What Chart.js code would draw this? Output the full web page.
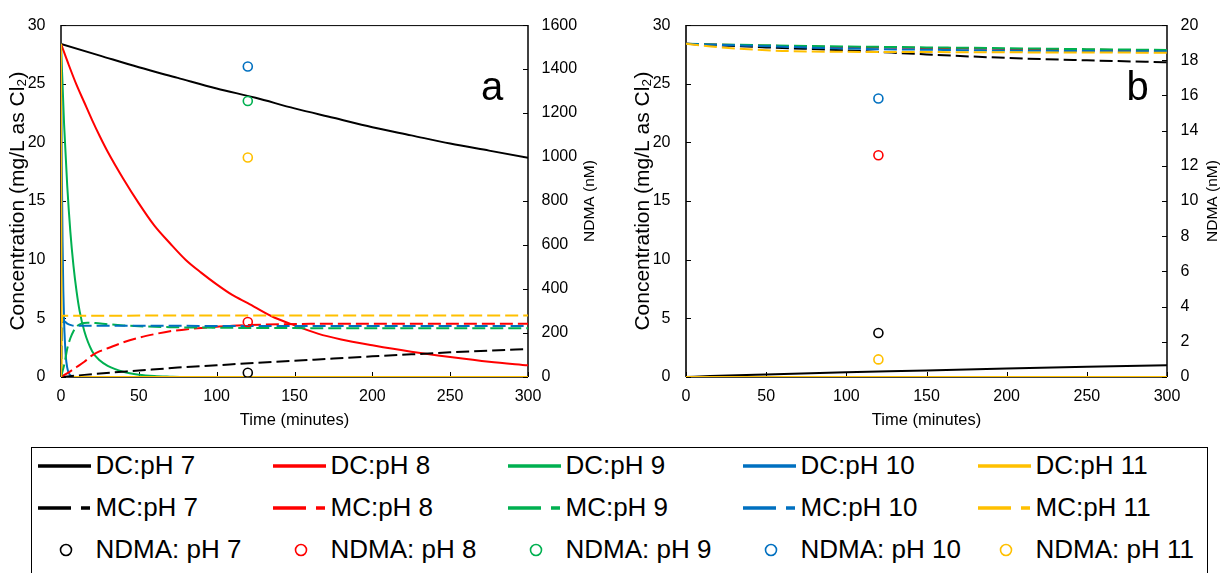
<!DOCTYPE html>
<html><head><meta charset="utf-8">
<script src="https://cdn.jsdelivr.net/npm/chart.js@4/dist/chart.umd.min.js"></script>
<style>
html,body{margin:0;padding:0;background:#fff;width:1225px;height:573px;overflow:hidden;font-family:'Liberation Sans',Arial,sans-serif;}
#ca{position:absolute;left:0;top:0;}
#cb{position:absolute;left:625px;top:0;}
#legend{position:absolute;left:31px;top:447px;width:1177px;height:140px;border:1.5px solid #000;box-sizing:border-box;}
.item{position:absolute;height:30px;display:flex;align-items:center;font-size:26px;color:#000;white-space:nowrap;}
.item svg{flex:none;}
</style></head><body>
<canvas id="ca" width="612" height="440"></canvas>
<canvas id="cb" width="600" height="440"></canvas>
<div id="legend"></div>
<script>
// ---------- categories / labels ----------
const PH = ['pH 7','pH 8','pH 9','pH 10','pH 11'];
const COLORS = ['#000000','#FF0000','#00B050','#0070C0','#FFC000'];
const xTicks = [0,50,100,150,200,250,300];
const leftTicks = [0,5,10,15,20,25,30];
const rightTicksA = [0,200,400,600,800,1000,1200,1400,1600];
const rightTicksB = [0,2,4,6,8,10,12,14,16,18,20];
const ndmaTime = 120;

// ---------- panel a : DC (solid) ----------
const aDC7_t = [0,25,50,75,100,125,150,175,200,225,250,275,300];
const aDC7_v = [28.4,27.4,26.4,25.5,24.6,23.8,22.9,22.1,21.3,20.6,19.9,19.3,18.7];
const aDC8_t = [0,5,10,15,20,25,30,40,50,60,70,80,90,100,110,120,135,150,165,180,200,225,250,275,300];
const aDC8_v = [28.4,26.6,24.9,23.4,21.9,20.5,19.2,16.9,14.8,12.9,11.4,10.0,8.9,7.9,7.0,6.3,5.2,4.4,3.7,3.2,2.7,2.15,1.7,1.3,1.0];
const aDC9_t = [0,2,4,6,8,10,12,15,20,25,30,40,50,60,70,80,300];
const aDC9_v = [28.4,21.5,16.3,12.4,9.5,7.3,5.6,3.9,2.2,1.4,0.95,0.45,0.2,0.08,0.03,0,0];
const aDC10_t = [0,0.5,1,1.5,2,3,4,6,10,300];
const aDC10_v = [28.4,18,11.5,7.3,4.7,1.9,0.8,0.15,0,0];
const aDC11_t = [0,0.5,300];
const aDC11_v = [28.4,0,0];
// ---------- panel a : MC (dashed) ----------
const aMC7_t = [0,10,25,50,75,100,125,150,175,200,225,250,275,300];
const aMC7_v = [0,0.12,0.3,0.55,0.8,1.0,1.2,1.38,1.58,1.76,1.93,2.1,2.25,2.38];
const aMC8_t = [0,5,10,15,20,25,30,40,50,60,70,80,90,100,110,120,140,160,200,250,300];
const aMC8_v = [0,0.4,0.85,1.3,1.85,2.2,2.45,2.95,3.35,3.65,3.9,4.05,4.18,4.28,4.37,4.43,4.5,4.53,4.55,4.55,4.55];
const aMC9_t = [0,1,2,3,4,6,8,10,13,17,22,30,40,50,70,100,150,200,300];
const aMC9_v = [0,0.5,1.0,1.7,2.4,3.3,3.9,4.3,4.55,4.62,4.6,4.5,4.4,4.33,4.25,4.2,4.17,4.15,4.15];
const aMC10_t = [0,0.5,1,2,4,7,10,300];
const aMC10_v = [0,3.0,4.5,4.75,4.55,4.4,4.37,4.35];
const aMC11_t = [0,0.5,1,300];
const aMC11_v = [0,4.5,5.22,5.25];
// ---------- panel a : NDMA (nM) at 120 min, pH 7..11 ----------
const aNDMA = [19,250,1255,1412,998];

// ---------- panel b : DC (solid) ----------
const bDC7_t = [0,15,50,100,150,200,250,300];
const bDC7_v = [0,0.08,0.22,0.4,0.55,0.72,0.87,1.0];
const bDC8_t = [0,300];  const bDC8_v = [0,0];
const bDC9_t = [0,300];  const bDC9_v = [0,0];
const bDC10_t = [0,300]; const bDC10_v = [0,0];
const bDC11_t = [0,300]; const bDC11_v = [0,0];
// ---------- panel b : MC (dashed) ----------
const bMC7_t = [0,50,100,150,200,250,300];
const bMC7_v = [28.4,28.1,27.85,27.5,27.2,27.0,26.83];
const bMC8_t = [0,50,100,150,200,250,300];
const bMC8_v = [28.4,28.25,28.12,28.05,27.97,27.9,27.85];
const bMC9_t = [0,50,100,150,200,250,300];
const bMC9_v = [28.4,28.28,28.18,28.1,28.03,27.95,27.88];
const bMC10_t = [0,50,100,150,200,250,300];
const bMC10_v = [28.4,28.2,28.0,27.9,27.83,27.79,27.76];
const bMC11_t = [0,20,60,100,150,200,250,300];
const bMC11_v = [28.4,28.12,27.8,27.72,27.7,27.68,27.66,27.65];
// ---------- panel b : NDMA (nM) at 120 min ----------
const bNDMA = [2.5,12.6,null,15.83,1.0];

const FONT = "'Liberation Sans', Arial, sans-serif";
Chart.defaults.font.family = FONT;
Chart.defaults.color = '#000';

function pts(t, v){ return t.map((x,k)=>({x:x, y:v[k]})); }

function buildDatasets(dc, mc, ndma){
  const ds = [];
  let i = 0;
  dc.forEach((s,k)=>{
    ds.push({type:'line', label:'DC:'+PH[k], data:pts(s[0],s[1]), borderColor:COLORS[k], borderWidth:2,
      pointRadius:0, fill:false, cubicInterpolationMode:'monotone', yAxisID:'y', order:100-(i++)});
  });
  mc.forEach((s,k)=>{
    ds.push({type:'line', label:'MC:'+PH[k], data:pts(s[0],s[1]), borderColor:COLORS[k], borderWidth:2,
      borderDash:[13,5], pointRadius:0, fill:false, cubicInterpolationMode:'monotone', yAxisID:'y', order:100-(i++)});
  });
  ndma.forEach((v,k)=>{
    ds.push({type:'scatter', label:'NDMA: '+PH[k], data: v==null?[]:[{x:ndmaTime, y:v}], borderColor:COLORS[k],
      backgroundColor:'rgba(255,255,255,0)', pointRadius:4.5, pointBorderWidth:1.6, pointHoverRadius:4.5,
      yAxisID:'y2', order:100-(i++)});
  });
  return ds;
}

function framePlugin(letter, letterX, leftW, rTitleX){
  return {
    id:'frame'+letter,
    beforeDatasetsDraw(chart){
      const {ctx, chartArea:a, scales} = chart;
      ctx.save();
      ctx.strokeStyle = '#000';
      ctx.lineWidth = 1;
      ctx.beginPath(); ctx.moveTo(a.left, a.top+0.5); ctx.lineTo(a.right, a.top+0.5); ctx.stroke();
      ctx.lineWidth = 1.5;
      ctx.beginPath(); ctx.moveTo(a.right, a.top); ctx.lineTo(a.right, a.bottom); ctx.stroke();
      ctx.beginPath(); ctx.moveTo(a.left, a.bottom); ctx.lineTo(a.right, a.bottom); ctx.stroke();
      ctx.lineWidth = leftW;
      ctx.strokeStyle = leftW > 1.5 ? '#333' : '#000';
      ctx.beginPath(); ctx.moveTo(a.left, a.top); ctx.lineTo(a.left, a.bottom); ctx.stroke();
      ctx.strokeStyle = '#000';
      ctx.lineWidth = 1;
      scales.y.ticks.forEach(t=>{ const p = Math.round(scales.y.getPixelForValue(t.value))+0.5;
        ctx.beginPath(); ctx.moveTo(a.left, p); ctx.lineTo(a.left+5, p); ctx.stroke(); });
      scales.y2.ticks.forEach(t=>{ const p = Math.round(scales.y2.getPixelForValue(t.value))+0.5;
        ctx.beginPath(); ctx.moveTo(a.right-5, p); ctx.lineTo(a.right, p); ctx.stroke(); });
      scales.x.ticks.forEach(t=>{ const p = Math.round(scales.x.getPixelForValue(t.value))+0.5;
        ctx.beginPath(); ctx.moveTo(p, a.bottom); ctx.lineTo(p, a.bottom-5); ctx.stroke(); });
      ctx.restore();
    },
    afterDraw(chart){
      const {ctx, chartArea:a} = chart;
      ctx.save();
      ctx.fillStyle = '#000';
      ctx.font = "40px " + FONT;
      ctx.textAlign = 'center';
      ctx.textBaseline = 'alphabetic';
      ctx.fillText(letter, letterX, 100);
      // right axis title, reading bottom-to-top
      ctx.translate(rTitleX, (a.top + a.bottom) / 2);
      ctx.rotate(-Math.PI / 2);
      ctx.font = "15.5px " + FONT;
      ctx.textBaseline = 'middle';
      ctx.fillText('NDMA (nM)', 0, 0);
      ctx.restore();
    }
  };
}

function makeChart(id, dc, mc, ndma, rightTicks, rightW, rTitleX, letter, letterX, leftW){
  return new Chart(document.getElementById(id), {
    type:'line',
    data:{ datasets: buildDatasets(dc, mc, ndma) },
    options:{
      responsive:false, animation:false, devicePixelRatio:1,
      layout:{ padding:{top:17, left:0, right:0, bottom:0} },
      plugins:{ legend:{display:false}, tooltip:{enabled:false} },
      events:[],
      scales:{
        x:{ type:'linear', position:'bottom', min:0, max:300,
          afterBuildTicks: s=>{ s.ticks = xTicks.map(v=>({value:v})); },
          afterFit: s=>{ s.height = 63; },
          grid:{display:false, drawTicks:false}, border:{display:false},
          ticks:{ font:{size:16}, color:'#000', padding:10, maxRotation:0, autoSkip:false, callback: v=>String(v) },
          title:{ display:true, text:'Time (minutes)', font:{size:16.5}, color:'#000', padding:{top:0, bottom:10} } },
        y:{ type:'linear', position:'left', min:0, max:30,
          afterBuildTicks: s=>{ s.ticks = leftTicks.map(v=>({value:v})); },
          afterFit: s=>{ s.width = 61; },
          grid:{display:false, drawTicks:false}, border:{display:false},
          ticks:{ font:{size:16}, color:'#000', padding:15.5, autoSkip:false, callback: v=>String(v) },
          title:{ display:true, text:'Concentration (mg/L as Cl\u2082)', font:{size:21}, color:'#000', padding:{top:5.4, bottom:0} } },
        y2:{ type:'linear', position:'right', min:0, max:rightTicks[rightTicks.length-1],
          afterBuildTicks: s=>{ s.ticks = rightTicks.map(v=>({value:v})); },
          afterFit: s=>{ s.width = rightW; },
          grid:{display:false, drawTicks:false}, border:{display:false},
          ticks:{ font:{size:16}, color:'#000', padding:13.5, autoSkip:false, callback: v=>String(v) },
          title:{ display:false } }
      }
    },
    plugins:[ framePlugin(letter, letterX, leftW, rTitleX) ]
  });
}

makeChart('ca',
  [[aDC7_t,aDC7_v],[aDC8_t,aDC8_v],[aDC9_t,aDC9_v],[aDC10_t,aDC10_v],[aDC11_t,aDC11_v]],
  [[aMC7_t,aMC7_v],[aMC8_t,aMC8_v],[aMC9_t,aMC9_v],[aMC10_t,aMC10_v],[aMC11_t,aMC11_v]],
  aNDMA, rightTicksA, 84, 590, 'a', 492, 1.5);
makeChart('cb',
  [[bDC7_t,bDC7_v],[bDC8_t,bDC8_v],[bDC9_t,bDC9_v],[bDC10_t,bDC10_v],[bDC11_t,bDC11_v]],
  [[bMC7_t,bMC7_v],[bMC8_t,bMC8_v],[bMC9_t,bMC9_v],[bMC10_t,bMC10_v],[bMC11_t,bMC11_v]],
  bNDMA, rightTicksB, 58, 588, 'b', 512.5, 2);

// ---------- HTML legend ----------
const legend = document.getElementById('legend');
const rowsY = [17.5, 59.5, 101.5];
const colX = PH.map((_,k)=>5.5 + 235*k);
const kinds = ['DC:','MC:','NDMA: '];
kinds.forEach((kind, r)=>{
  PH.forEach((ph, k)=>{
    const it = document.createElement('div');
    it.className = 'item';
    it.style.left = colX[k] + 'px';
    it.style.top = (rowsY[r] - 15) + 'px';
    let svg;
    if (r === 0) svg = `<svg width="58" height="30"><line x1="0" y1="15" x2="53" y2="15" stroke="${COLORS[k]}" stroke-width="3.3"/></svg>`;
    else if (r === 1) svg = `<svg width="58" height="30"><line x1="0" y1="15" x2="52" y2="15" stroke="${COLORS[k]}" stroke-width="3.3" stroke-dasharray="33 10"/></svg>`;
    else svg = `<svg width="58" height="30"><circle cx="28" cy="15" r="5.5" fill="none" stroke="${COLORS[k]}" stroke-width="1.6"/></svg>`;
    it.innerHTML = svg + `<span>${kind}${ph}</span>`;
    legend.appendChild(it);
  });
});
</script>
</body></html>
